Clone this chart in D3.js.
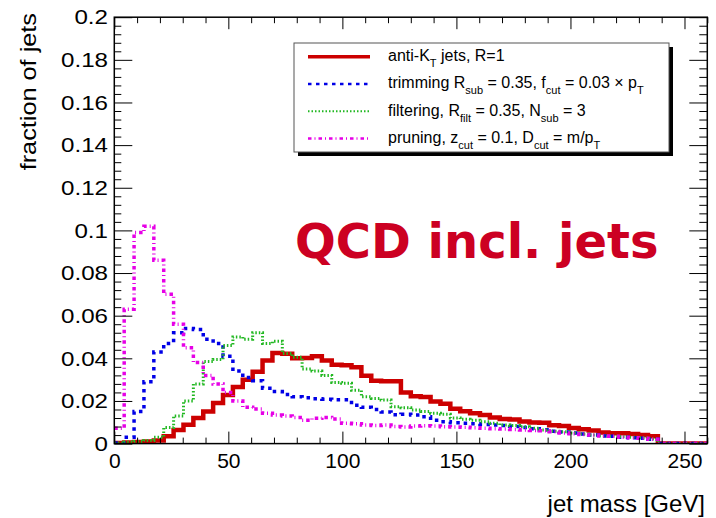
<!DOCTYPE html>
<html>
<head>
<meta charset="utf-8">
<script src="https://cdn.jsdelivr.net/npm/d3@7"></script>
<style>
  body { margin: 0; background: #fff; }
  text { font-family: "Liberation Sans", Arial, Helvetica, sans-serif; }
</style>
</head>
<body>
<svg id="chart"></svg>
<script>
'use strict';

// histogram binning (60 bins between 0 and 260 GeV)
var nBins = 60;
var massRange = [0, 260];
var binLow = d3.range(nBins).map(function (i) { return massRange[0] + i * (massRange[1] - massRange[0]) / nBins; });

// fraction of jets per bin
var antiKt = [
  0.0003, 0.0005, 0.0008, 0.001, 0.0015, 0.0035, 0.0064, 0.0088, 0.012, 0.015,
  0.019, 0.0228, 0.0265, 0.030, 0.0337, 0.039, 0.0425, 0.0422, 0.040, 0.0402,
  0.041, 0.039, 0.037, 0.0368, 0.0358, 0.0318, 0.0295, 0.0293, 0.0292, 0.024,
  0.0222, 0.0218, 0.0198, 0.0187, 0.0163, 0.0152, 0.0142, 0.0134, 0.0123, 0.0115,
  0.0113, 0.0104, 0.0099, 0.0098, 0.0086, 0.0083, 0.0073, 0.0067, 0.0062, 0.0052,
  0.0049, 0.0048, 0.0045, 0.004, 0.0034, 0, 0, 0, 0, 0
];
var trimming = [
  0.0003, 0.003, 0.015, 0.029, 0.043, 0.047, 0.052, 0.054, 0.0535, 0.049,
  0.047, 0.041, 0.034, 0.031, 0.0295, 0.026, 0.0244, 0.023, 0.022, 0.0215,
  0.021, 0.0208, 0.0206, 0.0206, 0.018, 0.017, 0.016, 0.0148, 0.0135, 0.0138,
  0.0134, 0.0126, 0.011, 0.0103, 0.0098, 0.0095, 0.0093, 0.009, 0.0087, 0.0085,
  0.008, 0.0075, 0.007, 0.0065, 0.0058, 0.0054, 0.005, 0.0045, 0.004, 0.0036,
  0.0034, 0.003, 0.0028, 0.0025, 0.002, 0, 0, 0, 0, 0
];
var filtering = [
  0.0003, 0.0008, 0.001, 0.0015, 0.003, 0.0075, 0.013, 0.020, 0.028, 0.0385,
  0.0395, 0.046, 0.050, 0.049, 0.052, 0.047, 0.048, 0.0423, 0.0405, 0.035,
  0.034, 0.032, 0.0287, 0.0283, 0.025, 0.022, 0.0212, 0.0204, 0.0173, 0.0168,
  0.0158, 0.015, 0.0142, 0.0138, 0.012, 0.0114, 0.011, 0.0103, 0.0095, 0.0087,
  0.0085, 0.0079, 0.0072, 0.0064, 0.0058, 0.0056, 0.005, 0.0045, 0.004, 0.0036,
  0.0034, 0.0032, 0.003, 0.0027, 0.0022, 0, 0, 0, 0, 0
];
var pruning = [
  0.0072, 0.063, 0.099, 0.102, 0.086, 0.070, 0.056, 0.045, 0.038, 0.032,
  0.028, 0.024, 0.020, 0.017, 0.0162, 0.0142, 0.0134, 0.013, 0.0123, 0.011,
  0.0119, 0.0123, 0.0115, 0.0095, 0.0093, 0.0087, 0.0085, 0.0087, 0.008, 0.0078,
  0.0082, 0.0084, 0.0083, 0.0079, 0.0078, 0.0077, 0.0074, 0.0072, 0.007, 0.0068,
  0.0066, 0.0064, 0.0062, 0.006, 0.0055, 0.005, 0.0046, 0.0043, 0.004, 0.0036,
  0.0034, 0.003, 0.0028, 0.0025, 0.002, 0, 0, 0, 0, 0
];

var xMajor = [0, 50, 100, 150, 200, 250];
var xMinor = [10, 20, 30, 40, 60, 70, 80, 90, 110, 120, 130, 140, 160, 170, 180, 190, 210, 220, 230, 240, 260];
var yMajor = [0, 0.02, 0.04, 0.06, 0.08, 0.1, 0.12, 0.14, 0.16, 0.18, 0.2];
var yTickLabels = ['0', '0.02', '0.04', '0.06', '0.08', '0.1', '0.12', '0.14', '0.16', '0.18', '0.2'];

var width = 716;
var height = 518;
var frame = { left: 114.3, right: 707.3, top: 17.2, bottom: 443.6 };

var svg = d3.select('#chart')
  .attr('width', width)
  .attr('height', height);

var x = d3.scaleLinear().domain(massRange).range([frame.left, frame.right]);
var y = d3.scaleLinear().domain([0, 0.2]).range([frame.bottom, frame.top]);

// y minor ticks every 0.004
var yMinor = d3.range(0, 51).map(function (i) { return i * 0.004; })
  .filter(function (v, i) { return i % 5 !== 0; });

svg.append('clipPath').attr('id', 'frameClip')
  .append('rect')
  .attr('x', frame.left).attr('y', frame.top)
  .attr('width', frame.right - frame.left)
  .attr('height', frame.bottom - frame.top);

// histograms
var series = [
  { values: antiKt, color: '#cc0000', width: 4.5, dash: null },
  { values: trimming, color: '#0000e6', width: 3.5, dash: '3.5,4.5' },
  { values: filtering, color: '#22b822', width: 3, dash: '1.5,2' },
  { values: pruning, color: '#e600e6', width: 3.5, dash: '3.5,3,1,3' }
];

var histLine = d3.line()
  .x(function (d) { return x(d[0]); })
  .y(function (d) { return y(d[1]); })
  .curve(d3.curveStepAfter);

var plot = svg.append('g').attr('clip-path', 'url(#frameClip)');
series.forEach(function (s) {
  var pts = binLow.map(function (m, i) { return [m, s.values[i]]; });
  pts.push([massRange[1], s.values[nBins - 1]]);
  plot.append('path')
    .attr('d', histLine(pts))
    .attr('fill', 'none')
    .attr('stroke', s.color)
    .attr('stroke-width', s.width)
    .attr('stroke-dasharray', s.dash)
    .attr('stroke-linejoin', 'miter');
});

// axes, ROOT style: ticks inside the frame
function noDomain(g) { g.select('.domain').remove(); g.selectAll('line').attr('stroke', '#000'); }

svg.append('g')
  .attr('transform', 'translate(0,' + frame.bottom + ')')
  .call(d3.axisBottom(x).tickValues(xMajor).tickSize(-12).tickPadding(9.5).tickFormat(d3.format('d')))
  .call(noDomain)
  .selectAll('text').attr('font-size', 21).attr('fill', '#000');
svg.append('g')
  .attr('transform', 'translate(0,' + frame.bottom + ')')
  .call(d3.axisBottom(x).tickValues(xMinor).tickSize(-6).tickFormat(''))
  .call(noDomain);
svg.append('g')
  .attr('transform', 'translate(0,' + frame.top + ')')
  .call(d3.axisTop(x).tickValues(xMajor).tickSize(-12).tickFormat(''))
  .call(noDomain);
svg.append('g')
  .attr('transform', 'translate(0,' + frame.top + ')')
  .call(d3.axisTop(x).tickValues(xMinor).tickSize(-6).tickFormat(''))
  .call(noDomain);

svg.append('g')
  .attr('transform', 'translate(' + frame.left + ',0)')
  .call(d3.axisLeft(y).tickValues(yMajor).tickSize(-18).tickPadding(5.5)
    .tickFormat(function (d, i) { return yTickLabels[i]; }))
  .call(noDomain)
  .selectAll('text').attr('font-size', 21).attr('fill', '#000')
  .attr('transform', 'scale(1.15,1)');
svg.append('g')
  .attr('transform', 'translate(' + frame.left + ',0)')
  .call(d3.axisLeft(y).tickValues(yMinor).tickSize(-7).tickFormat(''))
  .call(noDomain);
svg.append('g')
  .attr('transform', 'translate(' + frame.right + ',0)')
  .call(d3.axisRight(y).tickValues(yMajor).tickSize(-18).tickFormat(''))
  .call(noDomain);
svg.append('g')
  .attr('transform', 'translate(' + frame.right + ',0)')
  .call(d3.axisRight(y).tickValues(yMinor).tickSize(-8).tickFormat(''))
  .call(noDomain);

svg.append('rect')
  .attr('x', frame.left).attr('y', frame.top)
  .attr('width', frame.right - frame.left)
  .attr('height', frame.bottom - frame.top)
  .attr('fill', 'none')
  .attr('stroke', '#000')
  .attr('stroke-width', 1.5);

// axis titles
svg.append('text')
  .attr('x', 705).attr('y', 512)
  .attr('text-anchor', 'end')
  .attr('font-size', 24)
  .text('jet mass [GeV]');

svg.append('text')
  .attr('transform', 'translate(36,13) rotate(-90) scale(1.15,1)')
  .attr('text-anchor', 'end')
  .attr('font-size', 22)
  .text('fraction of jets');

// big label
svg.append('text')
  .attr('x', 295).attr('y', 258)
  .style('font-family', '"DejaVu Sans", Verdana, sans-serif')
  .style('font-weight', 'bold')
  .attr('font-size', 48)
  .attr('fill', '#cc0022')
  .text('QCD incl. jets');

// legend
var legendBox = { x: 294, y: 43, w: 375, h: 109 };
svg.append('rect')
  .attr('x', legendBox.x + 4).attr('y', legendBox.y + 4)
  .attr('width', legendBox.w).attr('height', legendBox.h)
  .attr('fill', '#000');
svg.append('rect')
  .attr('x', legendBox.x).attr('y', legendBox.y)
  .attr('width', legendBox.w).attr('height', legendBox.h)
  .attr('fill', '#fff')
  .attr('stroke', '#555')
  .attr('stroke-width', 1);

var legendLabels = [
  [['anti-K', 0], ['T', 1], [' jets, R=1', 0]],
  [['trimming R', 0], ['sub', 1], [' = 0.35, f', 0], ['cut', 1], [' = 0.03 \u00d7 p', 0], ['T', 1]],
  [['filtering, R', 0], ['filt', 1], [' = 0.35, N', 0], ['sub', 1], [' = 3', 0]],
  [['pruning, z', 0], ['cut', 1], [' = 0.1, D', 0], ['cut', 1], [' = m/p', 0], ['T', 1]]
];

// entries share the box height evenly
var rowH = legendBox.h / series.length;
var legendRows = svg.append('g');
series.forEach(function (s, i) {
  var mid = legendBox.y + rowH * (i + 0.5);
  legendRows.append('line')
    .attr('x1', 308).attr('x2', 370)
    .attr('y1', mid).attr('y2', mid)
    .attr('stroke', s.color)
    .attr('stroke-width', s.width - 1)
    .attr('stroke-dasharray', s.dash);
  var t = legendRows.append('text')
    .attr('x', 388).attr('y', mid + 4.5)
    .attr('font-size', 16)
    .attr('fill', '#000');
  var shifted = 0;
  legendLabels[i].forEach(function (part) {
    var sub = part[1] === 1;
    var dy = sub ? 6 - shifted : -shifted;
    shifted = sub ? 6 : 0;
    t.append('tspan')
      .attr('dy', dy)
      .attr('font-size', sub ? 11 : 16)
      .text(part[0]);
  });
});
</script>
</body>
</html>
